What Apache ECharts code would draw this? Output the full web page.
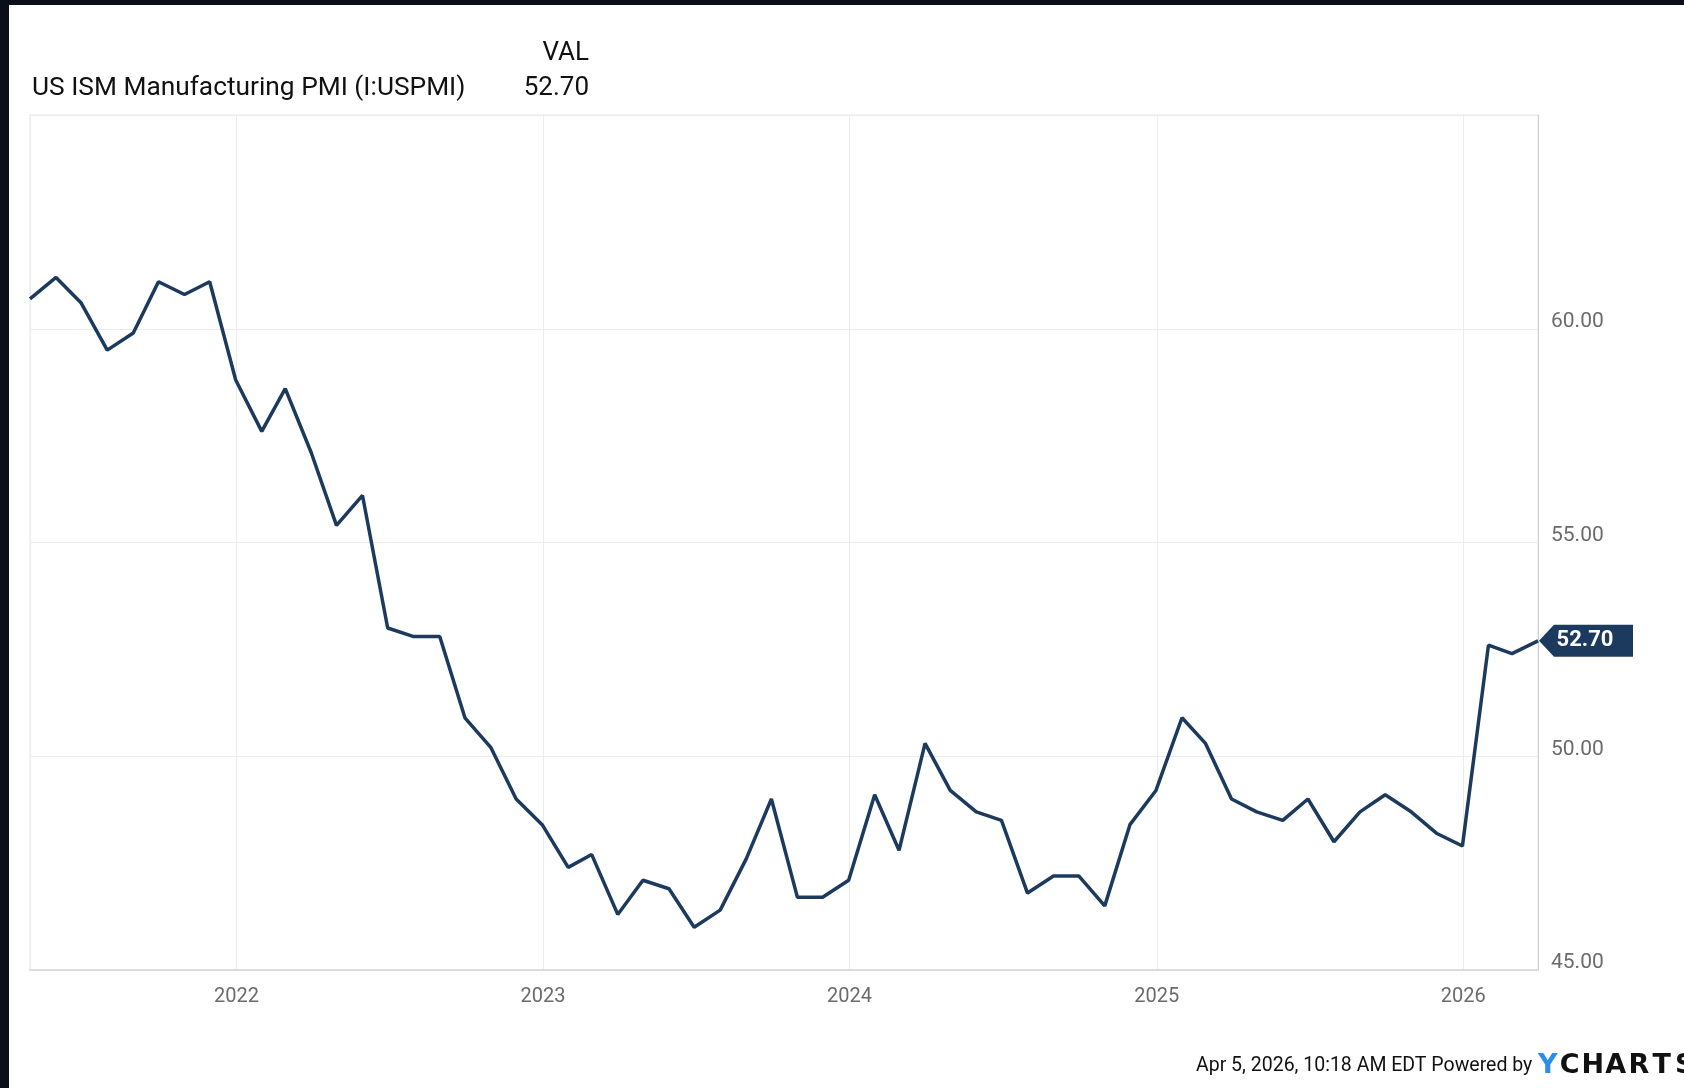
<!DOCTYPE html>
<html>
<head>
<meta charset="utf-8">
<script src="https://cdn.jsdelivr.net/npm/echarts@6/dist/echarts.min.js"></script>
<style>
  html, body { margin: 0; padding: 0; background: #fff; }
  #chart { width: 1684px; height: 1088px; }
</style>
</head>
<body>
<div id="chart"></div>
<script>
// 月末日期（ISM PMI 每月一个点）
var months = [
  '2021-04-30', '2021-05-31', '2021-06-30', '2021-07-31', '2021-08-31', '2021-09-30',
  '2021-10-31', '2021-11-30', '2021-12-31',
  '2022-01-31', '2022-02-28', '2022-03-31', '2022-04-30', '2022-05-31', '2022-06-30',
  '2022-07-31', '2022-08-31', '2022-09-30', '2022-10-31', '2022-11-30', '2022-12-31',
  '2023-01-31', '2023-02-28', '2023-03-31', '2023-04-30', '2023-05-31', '2023-06-30',
  '2023-07-31', '2023-08-31', '2023-09-30', '2023-10-31', '2023-11-30', '2023-12-31',
  '2024-01-31', '2024-02-29', '2024-03-31', '2024-04-30', '2024-05-31', '2024-06-30',
  '2024-07-31', '2024-08-31', '2024-09-30', '2024-10-31', '2024-11-30', '2024-12-31',
  '2025-01-31', '2025-02-28', '2025-03-31', '2025-04-30', '2025-05-31', '2025-06-30',
  '2025-07-31', '2025-08-31', '2025-09-30', '2025-10-31', '2025-11-30', '2025-12-31',
  '2026-01-31', '2026-02-28', '2026-03-31'
]
var pmi = [
  60.7, 61.2, 60.6, 59.5, 59.9, 61.1, 60.8, 61.1, 58.8,
  57.6, 58.6, 57.1, 55.4, 56.1, 53.0, 52.8, 52.8, 50.9, 50.2, 49.0, 48.4,
  47.4, 47.7, 46.3, 47.1, 46.9, 46.0, 46.4, 47.6, 49.0, 46.7, 46.7, 47.1,
  49.1, 47.8, 50.3, 49.2, 48.7, 48.5, 46.8, 47.2, 47.2, 46.5, 48.4, 49.2,
  50.9, 50.3, 49.0, 48.7, 48.5, 49.0, 48.0, 48.7, 49.1, 48.7, 48.2, 47.9,
  52.6, 52.4, 52.7
]
var yTicks = [45, 50, 55, 60, 65]
var seriesName = 'US ISM Manufacturing PMI (I:USPMI)'
var stamp = 'Apr 5, 2026, 10:18 AM EDT Powered by'

var lineColor = '#1c3a5e'
var last = pmi.length - 1
var YEAR = 365 * 24 * 3600 * 1000

var chart = echarts.init(document.getElementById('chart'))

var option = {
  backgroundColor: '#fff',
  animation: false,
  textStyle: { fontFamily: 'Roboto' },
  grid: {
    left: 30,
    top: 115,
    right: 146,
    bottom: 118,
    show: true,
    borderColor: '#e6e6e6',
    borderWidth: 1
  },
  graphic: [
    // 左侧和顶部的深色边
    { type: 'rect', left: 0, top: 0, shape: { width: 9, height: 1088 }, style: { fill: '#0b0f17' } },
    { type: 'rect', left: 0, top: 0, shape: { width: 1684, height: 5 }, style: { fill: '#0b0f17' } },
    {
      type: 'text', left: 32, top: 75,
      style: { text: seriesName, fontSize: 26.3, fontFamily: 'Roboto', fill: '#111' }
    },
    {
      type: 'text', right: 1684 - 589, top: 40,
      style: { text: 'VAL', fontSize: 26, fontFamily: 'Roboto', fill: '#111', align: 'right' }
    },
    {
      type: 'text', right: 1684 - 589, top: 75,
      style: { text: pmi[last].toFixed(2), fontSize: 26, fontFamily: 'Roboto', fill: '#111', align: 'right' }
    },
    {
      type: 'text', left: 1196, top: 1056,
      style: { text: stamp, fontSize: 19.5, fontFamily: 'Roboto', fill: '#111' }
    },
    {
      type: 'text', left: 1538, top: 1052,
      style: {
        text: '{y|Y}{c|C}{c|H}{c|A}{c|R}{c|T}{c|S}',
        rich: {
          y: { fontSize: 27, fontWeight: 'bold', fontFamily: 'DejaVu Sans', fill: '#2a8de6', width: 21, align: 'center' },
          c: { fontSize: 27, fontWeight: 'bold', fontFamily: 'DejaVu Sans', fill: '#111', width: 23, align: 'center' }
        }
      }
    }
  ],
  xAxis: {
    type: 'time',
    min: months[0],
    max: months[last],
    minInterval: YEAR,
    maxInterval: YEAR + 24 * 3600 * 1000,
    axisLine: { show: true, lineStyle: { color: '#dcdcdc', width: 2 } },
    axisTick: { show: false },
    axisLabel: {
      formatter: '{yyyy}',
      color: '#6b6b6b',
      fontSize: 20,
      margin: 17,
      showMinLabel: false,
      showMaxLabel: false
    },
    splitLine: { show: true, lineStyle: { color: '#ececec', width: 1 } }
  },
  yAxis: {
    type: 'value',
    position: 'right',
    min: yTicks[0],
    max: yTicks[yTicks.length - 1],
    interval: 5,
    axisLine: { show: true, lineStyle: { color: '#cfcfcf', width: 1 } },
    axisTick: { show: false },
    axisLabel: {
      color: '#6b6b6b',
      fontSize: 21,
      margin: 13,
      lineHeight: 14,
      verticalAlign: 'bottom',
      showMaxLabel: false,
      formatter: function (v) { return v.toFixed(2) }
    },
    splitLine: { show: true, lineStyle: { color: '#ececec', width: 1 } }
  },
  series: [{
    name: seriesName,
    type: 'line',
    data: months.map(function (m, i) { return [m, pmi[i]] }),
    showSymbol: false,
    symbol: 'none',
    clip: false,
    lineStyle: { color: lineColor, width: 3.5 },
    markPoint: {
      silent: true,
      symbol: 'path://M0,16L15,0L94,0L94,32L15,32Z',
      symbolSize: [94, 32],
      symbolOffset: [48, 0],
      itemStyle: { color: lineColor },
      label: {
        show: true,
        color: '#fff',
        fontSize: 22,
        fontWeight: 'bold',
        fontFamily: 'Roboto',
        offset: [-1, 0],
        formatter: function (p) { return p.value.toFixed(2) }
      },
      data: [{ coord: [months[last], pmi[last]], value: pmi[last] }]
    }
  }]
}

chart.setOption(option)
</script>
</body>
</html>
